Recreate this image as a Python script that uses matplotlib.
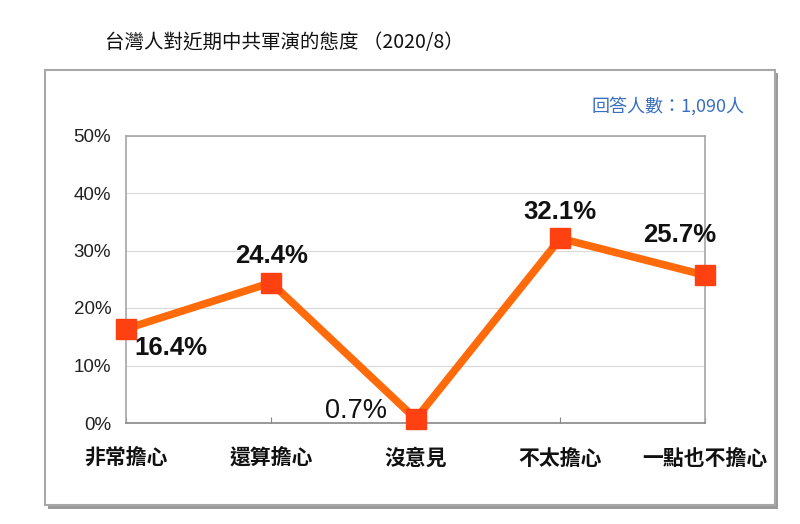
import matplotlib
matplotlib.use("Agg")
import matplotlib.pyplot as plt
from matplotlib.patches import Rectangle

plt.rcParams['font.family'] = ['Noto Sans CJK TC', 'DejaVu Sans']

categories = ['非常擔心', '還算擔心', '沒意見', '不太擔心', '一點也不擔心']
values = [16.4, 24.4, 0.7, 32.1, 25.7]
value_labels = ['16.4%', '24.4%', '0.7%', '32.1%', '25.7%']
yticks = [0, 10, 20, 30, 40, 50]
ytick_labels = ['0%', '10%', '20%', '30%', '40%', '50%']
title = '台灣人對近期中共軍演的態度 （2020/8）'
note = '回答人數：1,090人'

W, H = 800, 524
fig = plt.figure(figsize=(8, 5.24), dpi=100)

# outer frame with shadow
shadow = Rectangle((48 / W, 1 - 509 / H), (776 - 46) / W, (509 - 73) / H,
                   transform=fig.transFigure, facecolor='#9a9a9a', edgecolor='none', zorder=0)
fig.patches.append(shadow)
frame = Rectangle((45 / W, 1 - 505 / H), (775 - 45) / W, (505 - 70) / H,
                  transform=fig.transFigure, facecolor='white', edgecolor='#a8a8a8',
                  linewidth=1.5, zorder=1)
fig.patches.append(frame)

left, right, top, bottom = 126.5, 705, 135.5, 423
ax = fig.add_axes([left / W, 1 - bottom / H, (right - left) / W, (bottom - top) / H])
ax.set_zorder(2)
ax.patch.set_alpha(0)

x = list(range(len(categories)))
ax.plot(x, values, color='#FF6A0A', linewidth=5.5, solid_capstyle='round', zorder=3,
        clip_on=False)
ax.plot(x, values, linestyle='none', marker='s', markersize=14, color='#FF4010',
        markeredgecolor='#FF4010', zorder=4, clip_on=False)

ax.set_xlim(0, len(categories) - 1)
ax.set_ylim(0, 50)
ax.set_yticks(yticks)
ax.set_yticklabels(ytick_labels, family=['Liberation Sans', 'DejaVu Sans'])
ax.set_xticks(x)
ax.set_xticklabels(categories, fontweight='bold')
ax.tick_params(axis='y', length=0, pad=11, labelsize=13.5)
ax.tick_params(axis='x', length=4, pad=18, labelsize=15, colors='#888888', direction='in')
for lab in ax.get_xticklabels():
    lab.set_color('#111111')
for lab in ax.get_yticklabels():
    lab.set_color('#222222')

ax.yaxis.grid(True, color='#d9d9d9', linewidth=0.8)
ax.set_axisbelow(True)
for s in ['left', 'right', 'top']:
    ax.spines[s].set_color('#a6a6a6')
    ax.spines[s].set_linewidth(1.2)
ax.spines['bottom'].set_color('#888888')
ax.spines['bottom'].set_linewidth(1.2)

# value labels (offsets in points)
offsets = [(32, -14), (0, 19), (-43, 6), (0, 19), (-18, 29)]
for i, (v, lab, off) in enumerate(zip(values, value_labels, offsets)):
    bold = i != 2
    ax.annotate(lab, (i, v), xytext=off, textcoords='offset points',
                ha='center', va='center', fontsize=18.5 if bold else 19.5,
                fontweight='bold' if bold else 'normal',
                family=['Liberation Sans', 'DejaVu Sans'], color='#111111',
                zorder=5, annotation_clip=False)

fig.text(105 / W, 1 - 43 / H, title, fontsize=14, ha='left', va='center', color='#111111')
fig.text(745 / W, 1 - 106 / H, note, fontsize=13, ha='right', va='center', color='#3a6fc0')

fig.savefig('out.png', dpi=100)
